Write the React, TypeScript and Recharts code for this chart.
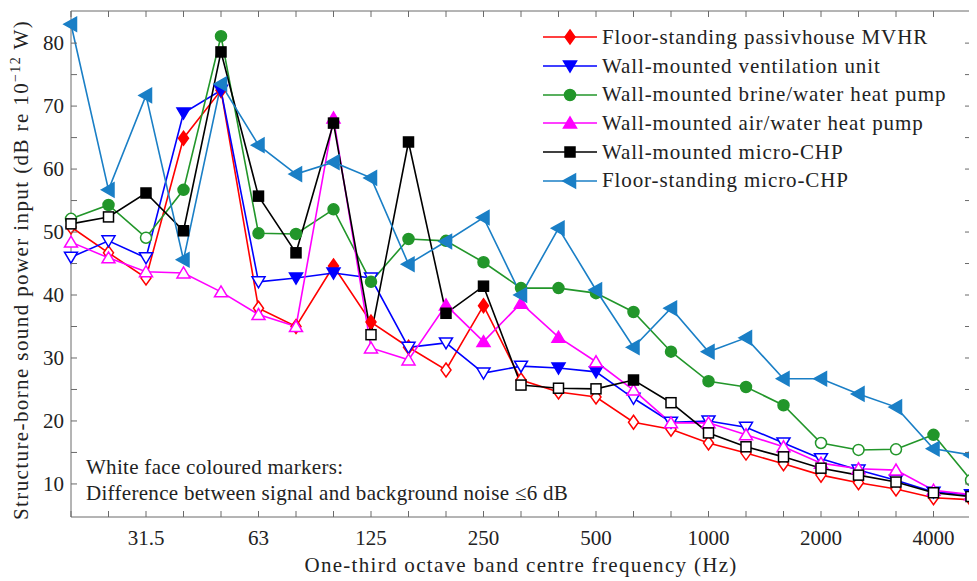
import { LineChart, Line, XAxis, YAxis } from 'recharts'

const bands = ['20', '25', '31.5', '40', '50', '63', '80', '100', '125', '160', '200', '250', '315', '400', '500', '630', '800', '1000', '1250', '1600', '2000', '2500', '3150', '4000', '5000']
const labelledBands = ['31.5', '63', '125', '250', '500', '1000', '2000', '4000']
const yTicks = [10, 15, 20, 25, 30, 35, 40, 45, 50, 55, 60, 65, 70, 75, 80]

// values in dB, open = white-face marker (signal/background difference <= 6 dB)
const mvhr = [50.8, 46.7, 42.7, 64.9, 72.5, 37.9, 35.0, 44.6, 35.7, 31.7, 28.1, 38.3, 26.5, 24.6, 23.8, 19.8, 18.7, 16.5, 14.9, 13.2, 11.4, 10.2, 9.2, 7.8, 7.5]
const mvhrOpen = [1, 1, 1, 0, 0, 1, 1, 0, 0, 1, 1, 0, 1, 1, 1, 1, 1, 1, 1, 1, 1, 1, 1, 1, 1]
const vent = [46.0, 48.6, 45.9, 68.9, 72.5, 42.1, 42.7, 43.5, 42.7, 31.7, 32.4, 27.6, 28.7, 28.4, 27.8, 23.6, 19.8, 20.0, 19.0, 16.5, 14.0, 12.2, 10.6, 8.7, 8.3]
const ventOpen = [1, 1, 1, 0, 0, 1, 0, 0, 1, 1, 1, 1, 1, 0, 0, 1, 1, 1, 1, 1, 1, 1, 1, 1, 0]
const brine = [52.1, 54.3, 49.1, 56.7, 81.1, 49.8, 49.7, 53.6, 42.1, 48.9, 48.6, 45.2, 41.1, 41.1, 40.3, 37.3, 31.0, 26.3, 25.4, 22.5, 16.5, 15.4, 15.5, 17.8, 10.6]
const brineOpen = [1, 0, 1, 0, 0, 0, 0, 0, 0, 0, 0, 0, 0, 0, 0, 0, 0, 0, 0, 0, 1, 1, 1, 0, 1]
const airWater = [48.4, 45.9, 43.7, 43.5, 40.5, 36.9, 35.0, 68.1, 31.6, 29.7, 38.4, 32.6, 38.7, 33.3, 29.4, 24.9, 19.7, 19.7, 17.8, 15.9, 13.3, 12.4, 12.2, 9.0, 8.3]
const airWaterOpen = [1, 1, 1, 1, 1, 1, 1, 0, 1, 1, 0, 0, 0, 0, 1, 1, 1, 1, 1, 1, 1, 1, 1, 1, 1]
const wallChp = [51.3, 52.4, 56.2, 50.2, 78.6, 55.7, 46.7, 67.3, 33.7, 64.3, 37.1, 41.4, 25.7, 25.2, 25.1, 26.5, 22.9, 18.1, 15.9, 14.3, 12.5, 11.4, 10.3, 8.6, 8.0]
const wallChpOpen = [1, 1, 0, 0, 0, 0, 0, 0, 1, 0, 0, 0, 1, 1, 1, 0, 1, 1, 1, 1, 1, 1, 1, 1, 1]
const floorChp = [83.0, 56.7, 71.7, 45.6, 73.5, 63.8, 59.2, 61.1, 58.6, 44.9, 48.5, 52.3, 40.0, 50.6, 40.8, 31.7, 37.9, 31.0, 33.2, 26.7, 26.7, 24.3, 22.2, 15.6, 14.6]
const floorChpOpen = floorChp.map(() => 0)

const series = [
  { key: 'mvhr', name: 'Floor-standing passivhouse MVHR', color: '#ff0000', shape: 'diamond', open: mvhrOpen },
  { key: 'vent', name: 'Wall-mounted ventilation unit', color: '#0000ff', shape: 'down', open: ventOpen },
  { key: 'brine', name: 'Wall-mounted brine/water heat pump', color: '#22962a', shape: 'circle', open: brineOpen },
  { key: 'airWater', name: 'Wall-mounted air/water heat pump', color: '#ff00ff', shape: 'up', open: airWaterOpen },
  { key: 'wallChp', name: 'Wall-mounted micro-CHP', color: '#000000', shape: 'square', open: wallChpOpen },
  { key: 'floorChp', name: 'Floor-standing micro-CHP', color: '#1a7fc6', shape: 'left', open: floorChpOpen },
]

const data = bands.map((b, i) => ({
  i,
  band: b,
  mvhr: mvhr[i],
  vent: vent[i],
  brine: brine[i],
  airWater: airWater[i],
  wallChp: wallChp[i],
  floorChp: floorChp[i],
}))

const FONT = 'Liberation Serif, DejaVu Serif, Times New Roman, serif'
const AXIS = '#6a6a6a'
const TEXT = '#222222'

function Marker({ shape, cx, cy, color, open }: any) {
  const fill = open ? '#ffffff' : color
  const common = { fill, stroke: color, strokeWidth: 1.5 }
  switch (shape) {
    case 'diamond':
      return <polygon {...common} points={`${cx},${cy - 7} ${cx + 5},${cy} ${cx},${cy + 7} ${cx - 5},${cy}`} />
    case 'down':
      return <polygon {...common} points={`${cx - 6.5},${cy - 5} ${cx + 6.5},${cy - 5} ${cx},${cy + 6}`} />
    case 'up':
      return <polygon {...common} points={`${cx - 6.5},${cy + 5} ${cx + 6.5},${cy + 5} ${cx},${cy - 6}`} />
    case 'left':
      return <polygon {...common} points={`${cx - 7},${cy} ${cx + 5.5},${cy - 7} ${cx + 5.5},${cy + 7}`} />
    case 'square':
      return <rect {...common} x={cx - 5} y={cy - 5} width={10} height={10} />
    default:
      return <circle {...common} cx={cx} cy={cy} r={5.5} />
  }
}

function BottomTick({ x, y, payload }: any) {
  const label = bands[payload.value]
  return (
    <g>
      <line x1={x} y1={y} x2={x} y2={y - 6} stroke={AXIS} strokeWidth={1} />
      {labelledBands.includes(label) && (
        <text x={x} y={y + 28} textAnchor="middle" style={{ fontFamily: FONT }} fontSize={21} fill={TEXT}>
          {label}
        </text>
      )}
    </g>
  )
}

function TopTick({ x, y }: any) {
  return <line x1={x} y1={y} x2={x} y2={y + 6} stroke={AXIS} strokeWidth={1} />
}

function LeftTick({ x, y, payload }: any) {
  return (
    <g>
      <line x1={x} y1={y} x2={x + 6} y2={y} stroke={AXIS} strokeWidth={1} />
      {payload.value % 10 === 0 && (
        <text x={x - 7} y={y} dy="0.35em" textAnchor="end" style={{ fontFamily: FONT }} fontSize={21} fill={TEXT}>
          {payload.value}
        </text>
      )}
    </g>
  )
}

function RightTick({ x, y }: any) {
  return <line x1={x} y1={y} x2={x - 6} y2={y} stroke={AXIS} strokeWidth={1} />
}

function LegendBox() {
  return (
    <div style={{ position: 'absolute', left: 533, top: 15, fontFamily: FONT, fontSize: 21, color: TEXT, letterSpacing: 0.9 }}>
      {series.map((s) => (
        <div key={s.key} style={{ display: 'flex', alignItems: 'center', height: 28.7 }}>
          <svg width={58} height={28}>
            <line x1={2} y1={14} x2={56} y2={14} stroke={s.color} strokeWidth={1.6} />
            <Marker shape={s.shape} cx={29} cy={14} color={s.color} open={0} />
          </svg>
          <span style={{ marginLeft: 3, whiteSpace: 'nowrap' }}>{s.name}</span>
        </div>
      ))}
    </div>
  )
}

export default function App() {
  return (
    <div style={{ position: 'relative', width: 969, height: 573, background: '#fff', fontFamily: FONT }}>
      <LineChart width={969} height={573} data={data} margin={{ top: 0, right: 0, bottom: 0, left: 0 }} style={{ fontFamily: FONT }}>
        <XAxis
          dataKey="i" type="number" domain={[0, 24]} ticks={bands.map((_, i) => i)} interval={0}
          height={64} tickSize={0} tickMargin={0} stroke={AXIS} tick={<BottomTick />}
          label={{
            content: () => (
              <text x={513} y={564} textAnchor="middle" style={{ fontFamily: FONT }} fontSize={21} fill={TEXT} letterSpacing={1.3}>
                One-third octave band centre frequency (Hz)
              </text>
            ),
          }}
        />
        <XAxis
          xAxisId="top" orientation="top" dataKey="i" type="number" domain={[0, 24]} ticks={bands.map((_, i) => i)}
          interval={0} height={3} tickSize={0} tickMargin={0} stroke={AXIS} tick={<TopTick />}
        />
        <YAxis
          type="number" domain={[4.75, 85.1]} ticks={yTicks} interval={0} width={63} tickSize={0} tickMargin={0}
          stroke={AXIS} tick={<LeftTick />} allowDataOverflow
          label={{
            content: () => (
              <text transform="translate(20,262) rotate(-90)" textAnchor="middle" style={{ fontFamily: FONT }} fontSize={21} fill={TEXT} letterSpacing={1.4}>
                Structure-borne sound power input (dB re 10
                <tspan dy={-8} fontSize={14}>−12</tspan>
                <tspan dy={8}> W)</tspan>
              </text>
            ),
          }}
        />
        <YAxis
          yAxisId="right" orientation="right" type="number" domain={[4.75, 85.1]} ticks={yTicks} interval={0}
          width={6} tickSize={0} tickMargin={0} stroke={AXIS} tick={<RightTick />} allowDataOverflow
        />
        {series.map((s) => (
          <Line
            key={s.key}
            dataKey={s.key}
            name={s.name}
            stroke={s.color}
            strokeWidth={1.6}
            isAnimationActive={false}
            activeDot={false}
            dot={(p: any) => (
              <Marker key={`${s.key}-${p.index}`} shape={s.shape} cx={p.cx} cy={p.cy} color={s.color} open={s.open[p.index]} />
            )}
          />
        ))}
      </LineChart>
      <LegendBox />
      <div style={{ position: 'absolute', left: 78, top: 446, fontSize: 21, lineHeight: '26px', color: TEXT, letterSpacing: 0.3, whiteSpace: 'nowrap' }}>
        <div>White face coloured markers:</div>
        <div>Difference between signal and background noise ≤6 dB</div>
      </div>
    </div>
  )
}
